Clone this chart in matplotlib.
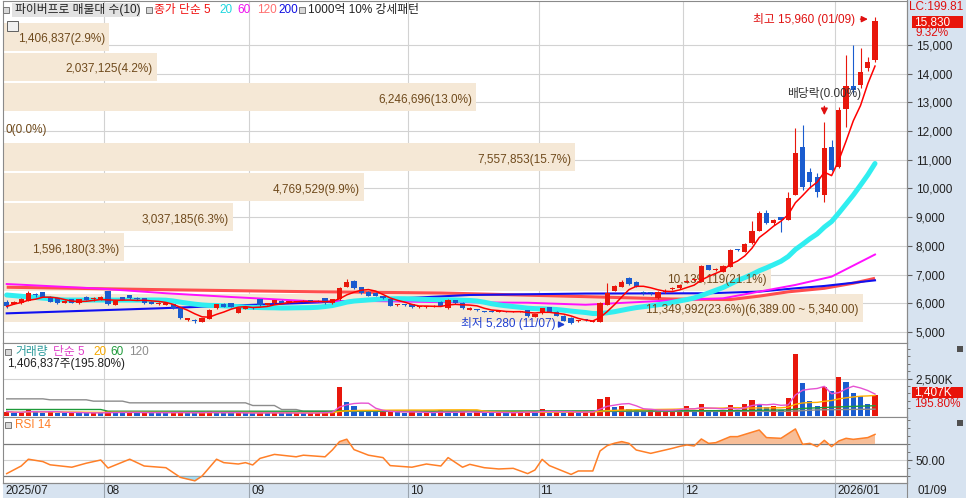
import numpy as np
import pandas as pd
import matplotlib
matplotlib.use('Agg')
import matplotlib.pyplot as plt
from matplotlib.patches import Rectangle
from matplotlib.transforms import blended_transform_factory

plt.rcParams['font.family'] = ['Liberation Sans', 'Noto Sans CJK KR', 'DejaVu Sans']

# ---------------- data ----------------
opens = [6060,5980,6000,6090,6300,6380,6230,6170,6020,6140,
 6000,6230,6140,6150,6430,5940,6210,6290,6170,6170,
 6057,5960,5940,5960,5825,5418,5400,5360,5450,5825,
 5975,6000,5674,5800,5830,6140,5940,6000,6090,6040,
 6050,6060,6090,6080,6170,6000,6140,6580,6790,6560,
 6400,6370,6250,6140,5930,5940,5975,5870,5880,5880,
 6060,5825,6115,6020,5770,5770,5710,5710,5700,5710,
 5700,5690,5766,5530,5650,5860,5710,5560,5500,5380,
 5440,5360,5362,5943,6441,6580,6894,6755,6360,6360,
 6174,6390,6510,6522,6740,6800,6755,7335,7161,7103,
 7277,7870,7800,8090,8530,9158,8810,8996,8903,9774,
 11458,10587,10413,9774,11458,10760,12759,13572,13606,14186,14477]
highs = [6110,6090,6170,6420,6350,6400,6250,6190,6100,6150,
 6150,6250,6210,6240,6440,6100,6230,6300,6230,6190,
 6070,6030,6010,5980,5840,5480,5440,5490,5790,5980,
 6000,6010,5840,5870,5880,6160,6010,6130,6110,6080,
 6090,6100,6110,6120,6190,6160,6560,6850,6800,6580,
 6420,6380,6270,6150,5980,5970,5990,5920,5920,5940,
 6070,6150,6130,6040,5870,5800,5740,5750,5740,5740,
 5740,5730,5780,5640,5850,5870,5720,5580,5510,5420,
 5460,5420,6050,6700,6640,6800,6920,6770,6420,6400,
 6430,6500,6580,6660,6800,6860,7320,7350,7220,7320,
 7900,7900,8100,8850,9210,9260,8930,9010,9890,12097,
 12213,10700,10530,12300,11691,12850,14651,15000,14883,14570,15960]
lows = [5850,5960,5990,6080,6230,6220,6040,5990,6000,6010,
 5990,6100,6080,6130,5950,5930,6100,6150,6110,5990,
 5960,5950,5930,5810,5460,5380,5330,5350,5440,5810,
 5870,5870,5650,5790,5790,5920,5930,5990,6000,6020,
 6030,6040,6040,6030,5990,5990,6130,6560,6500,6330,
 6240,6240,6160,5900,5900,5900,5850,5850,5850,5860,
 5890,5810,5990,5810,5750,5730,5680,5680,5690,5680,
 5680,5680,5540,5520,5640,5700,5550,5380,5280,5350,
 5390,5340,5350,5930,6420,6560,6640,6560,6300,6300,
 6160,6370,6480,6500,6700,6780,6740,7150,7140,7090,
 7270,7830,7790,8080,8520,8780,8720,8500,8890,9760,
 9950,10006,9716,9540,10600,10700,12155,13300,13500,14100,14400]
closes = [5890,6050,6140,6350,6290,6230,6060,6000,6080,6020,
 6140,6115,6150,6230,5960,6090,6115,6170,6160,6000,
 5975,6020,6000,5825,5476,5476,5390,5476,5766,5964,
 5883,5883,5825,5860,5820,5940,6000,6115,6020,6060,
 6070,6080,6070,6060,6000,6140,6520,6750,6520,6350,
 6250,6250,6170,5910,5940,5930,5860,5890,5900,5900,
 5900,6115,6000,5825,5850,5760,5700,5700,5720,5700,
 5710,5720,5558,5620,5825,5710,5558,5400,5300,5400,
 5420,5400,6000,6349,6604,6755,6674,6580,6349,6349,
 6407,6410,6530,6640,6760,6820,7300,7161,7180,7300,
 7858,7858,8055,8530,9158,8810,8903,8903,9658,11250,
 10064,10238,9890,11400,10650,12736,13572,13433,14070,14419,15830]
volumes_k = [270,180,200,380,250,200,260,200,170,210,
 180,160,170,150,300,220,180,190,160,250,
 200,180,170,200,260,180,160,170,290,200,
 170,160,180,170,160,200,170,190,160,150,
 170,160,180,200,260,300,1910,945,630,400,
 260,220,250,300,220,200,250,180,200,170,
 340,200,190,270,200,270,160,150,270,160,
 200,260,280,160,450,160,270,200,270,160,
 270,310,1140,1230,545,660,450,390,230,380,
 390,400,410,430,610,390,770,340,330,390,
 730,390,770,1070,770,600,620,390,1180,4140,
 2200,1000,610,1900,1640,2590,2270,1500,1300,780,1407]

month_labels = ['2025/07', '08', '09', '10', '11', '12', '2026/01']
month_start = [0, 14, 34, 56, 74, 94, 115]
last_date = '01/09'

# moving averages (history before the window is not shown)
ma20_head_idx = [0, 8]
ma20_head_val = [6289, 6115]
ma60_idx = [0, 13, 22, 31, 43, 50, 60, 72, 80, 93, 99, 104, 109, 114, 120]
ma60_val = [6672, 6510, 6350, 6220, 6060, 6080, 6040, 6020, 5950, 6116, 6174, 6407, 6640, 6929, 7700]
ma120_idx = [0, 20, 43, 60, 80, 92, 100, 104, 108, 113, 117, 120]
ma120_val = [6560, 6480, 6400, 6360, 6232, 6150, 6130, 6250, 6400, 6523, 6700, 6871]
ma200_idx = [0, 21, 43, 64, 80, 97, 104, 109, 113, 120]
ma200_val = [5650, 5825, 6030, 6290, 6340, 6350, 6407, 6523, 6604, 6800]

vma60_idx = [0, 13, 14, 45, 46, 60, 82, 100, 108, 110, 116, 120]
vma60_val = [405, 405, 290, 290, 320, 300, 310, 330, 380, 480, 600, 660]
vma120_idx = [0, 5, 6, 11, 12, 16, 17, 33, 34, 37, 38, 40, 41, 60, 108, 112, 120]
vma120_val = [1126, 1126, 1060, 1060, 970, 970, 856, 856, 676, 676, 405, 405, 290, 270, 280, 380, 430]

rsi_idx = [0,2,3,5,6,9,11,13,14,17,19,22,24,26,27,29,30,32,33,34,35,37,40,41,44,
 45,46,47,48,50,52,53,56,58,60,61,63,64,66,68,70,72,73,74,75,78,79,81,82,83,
 84,85,86,87,89,90,92,93,94,95,96,97,98,100,101,102,104,105,107,109,110,111,112,
 113,114,115,116,117,119,120]
rsi_val = [33,42.5,51,48,44,41,46,50,40,51,42.5,40.4,28.3,24,30,51,46.7,45,46.7,43.8,
 52,57,54,56,54,62.5,73,76,63,56,53,43,41,45,42.5,53,41,44.6,40.4,38.8,
 39.6,33,37.5,50.8,43,32,36.3,36.3,61.3,68,71,73,70.8,62.5,58.3,60.4,64.6,67,68.8,67.5,
 76.3,70.8,71.7,79.2,79.2,82,87.5,78,77.1,88.8,69.6,70.8,66.7,74.6,66.7,73.8,77.1,75.8,78,82]

vp_volume = [1406837, 2037125, 6246696, 0, 7557853, 4769529, 3037185, 1596180, 10139119, 11349992]
vp_pct = [2.9, 4.2, 13.0, 0.0, 15.7, 9.9, 6.3, 3.3, 21.1, 23.6]
vp_high, vp_low = 15830, 5340

high_label = '최고 15,960 (01/09)'
low_label = '최저 5,280 (11/07)'
exdiv_label = '배당락(0.00%)'
high_price, high_i = 15960, 120
low_price, low_i = 5280, 78
exdiv_i = 113

# ---------------- layout ----------------
W, H = 966, 498
fig = plt.figure(figsize=(W / 100, H / 100), dpi=100)
fig.patch.set_facecolor('white')
LEFT, RIGHT = 2.7, 906.7
XL = (-0.553, 124.38)
RED, BLUE = '#E8170C', '#1A5CCF'
PANEL = '#D7E3F0'
GRID = '#D2D2D2'


def fx(px):
    return px / W


def fy(py):
    return 1 - py / H


def px_of(i):
    return LEFT + (i - XL[0]) / (XL[1] - XL[0]) * (RIGHT - LEFT)


def box(x0, y0, x1, y1, fc, ec='none', z=1, lw=0.8):
    fig.patches.append(Rectangle((fx(x0), fy(y1)), (x1 - x0) / W, (y1 - y0) / H,
                                 transform=fig.transFigure, facecolor=fc,
                                 edgecolor=ec, lw=lw, zorder=z))


def ftext(x, y, s, color='#222222', size=8.5, ha='left', va='center', z=3):
    fig.text(fx(x), fy(y), s, color=color, fontsize=size, ha=ha, va=va, zorder=z)


def icon(x, y, fc='#D8D8D8', ec='#777777', s=6):
    box(x, y - s / 2, x + s, y + s / 2, fc, ec, z=2, lw=0.7)


box(RIGHT, 0, W, H, PANEL, z=-5)
box(LEFT, 483.3, RIGHT, H, PANEL, z=-5)


def add_ax(y0, y1):
    ax = fig.add_axes([fx(LEFT), fy(y1), (RIGHT - LEFT) / W, (y1 - y0) / H])
    ax.set_xlim(*XL)
    ax.set_xticks([])
    for sp in ax.spines.values():
        sp.set_color('#8A8A8A')
        sp.set_linewidth(0.8)
    ax.yaxis.tick_right()
    ax.tick_params(axis='y', which='major', direction='out', length=3.5, width=0.8,
                   color='#606060', pad=3, labelsize=8.5, labelcolor='#202020')
    ax.tick_params(axis='y', which='minor', direction='out', length=2, width=0.6,
                   color='#606060')
    ax.set_axisbelow(True)
    for m in month_start[1:]:
        ax.axvline(m - 0.5, color=GRID, lw=0.8, zorder=0.3)
    return ax


ax_p = add_ax(1, 343)
ax_v = add_ax(343, 416.7)
ax_r = add_ax(416.7, 483.3)

n = len(closes)
x = np.arange(n)
o = np.array(opens, float)
h = np.array(highs, float)
l = np.array(lows, float)
c = np.array(closes, float)

# ---------------- price panel ----------------
ax_p.set_ylim(4617, 16532)
ticks = list(range(5000, 16000, 1000))
ax_p.set_yticks(ticks)
ax_p.set_yticklabels([f'{t:,}' for t in ticks])
for t in ticks:
    ax_p.axhline(t, color=GRID, lw=0.8, zorder=0.3)

# volume profile
trans = blended_transform_factory(ax_p.transAxes, ax_p.transData)
step = (vp_high - vp_low) / len(vp_volume)
maxv = max(vp_volume)
scale = 860 / (RIGHT - LEFT)
for k, (v, p) in enumerate(zip(vp_volume, vp_pct)):
    top = vp_high - k * step
    bot = top - step
    w = v / maxv * scale
    if v > 0:
        ax_p.add_patch(Rectangle((0, bot + 25), w, step - 75, transform=trans,
                                 facecolor='#F5E8D6', edgecolor='none', zorder=0.6))
    lab = f'{v:,}({p:.1f}%)'
    if k == len(vp_volume) - 1:
        lab += f'({top:,.2f} ~ {bot:,.2f})'
    ym = (top + bot) / 2 - 110
    if v > 0:
        ax_p.text(w - 4 / (RIGHT - LEFT), ym, lab, transform=trans, ha='right', va='center',
                  fontsize=8.5, color='#6F4A1C', zorder=2.5)
    else:
        ax_p.text(3 / (RIGHT - LEFT), ym, lab, transform=trans, ha='left', va='center',
                  fontsize=8.5, color='#6F4A1C', zorder=2.5)

cs = pd.Series(c)
ma5 = cs.rolling(5, min_periods=1).mean()
ma20 = cs.rolling(20).mean()
ma20_x = ma20_head_idx + list(range(19, n))
ma20_y = ma20_head_val + list(ma20.values[19:])

ax_p.plot(ma120_idx, ma120_val, color='#FF4D4D', lw=2.2, zorder=1.2, solid_capstyle='butt')
ax_p.plot(ma200_idx, ma200_val, color='#1010F0', lw=1.5, zorder=1.3)
ax_p.plot(ma60_idx, ma60_val, color='#FF10FF', lw=1.4, zorder=1.4)
ax_p.plot(ma20_x, ma20_y, color='#30EEF0', lw=3.6, zorder=1.5, solid_capstyle='round')

cols = np.where(c >= o, RED, BLUE)
ax_p.vlines(x, l, h, colors=cols, lw=0.8, zorder=2.9)
ax_p.bar(x, np.maximum(np.abs(c - o), 30), bottom=np.minimum(o, c), width=0.72,
         color=cols, edgecolor='none', zorder=3)
ax_p.plot(x, ma5, color='#FF0000', lw=1.1, zorder=4)

# annotations
ax_p.annotate('', xy=(high_i - 0.6, high_price - 60), xytext=(high_i - 2.4, high_price - 60),
              arrowprops=dict(arrowstyle='-|>', color='#E01010', lw=1.0, mutation_scale=9),
              zorder=5)
ax_p.text(high_i - 2.75, high_price - 60, high_label, ha='right', va='center',
          fontsize=8.5, color='#E01010', zorder=5)
ax_p.annotate('', xy=(exdiv_i, 12456), xytext=(exdiv_i, 12960),
              arrowprops=dict(arrowstyle='-|>', color='#E01010', lw=1.0, mutation_scale=10),
              zorder=5)
ax_p.text(exdiv_i, 13320, exdiv_label, ha='center', va='center', fontsize=8.5,
          color='#333333', zorder=5)
ax_p.annotate('', xy=(low_i - 0.45, low_price - 20), xytext=(low_i - 1.95, low_price - 20),
              arrowprops=dict(arrowstyle='-|>', color='#1F3FD0', lw=1.0, mutation_scale=9),
              zorder=5)
ax_p.text(low_i - 2.2, low_price + 10, low_label, ha='right', va='center',
          fontsize=8.5, color='#1F3FD0', zorder=5)

# ---------------- volume panel ----------------
vol = np.array(volumes_k, float)
vcols = [RED] + [RED if vol[i] >= vol[i - 1] else BLUE for i in range(1, n)]
ax_v.set_ylim(-81, 4899)
ax_v.axhline(2500, color=GRID, lw=0.8, zorder=0.3)
ax_v.bar(x, vol, width=0.72, color=vcols, edgecolor='none', zorder=2)
vs = pd.Series(vol)
ax_v.plot(vma120_idx, vma120_val, color='#8C8C8C', lw=1.0, zorder=3)
ax_v.plot(vma60_idx, vma60_val, color='#1E9A3A', lw=1.0, zorder=3.1)
ax_v.plot(x, vs.rolling(20, min_periods=1).mean(), color='#FFB000', lw=1.0, zorder=3.2)
ax_v.plot(x, vs.rolling(5, min_periods=1).mean(), color='#E652D2', lw=1.0, zorder=3.3)
ax_v.set_yticks([2500])
ax_v.set_yticklabels(['2,500K'])
ax_v.set_yticks([500, 1000, 1500, 2000, 3000, 3500, 4000, 4500], minor=True)

# ---------------- RSI panel ----------------
ax_r.set_ylim(20.9, 104.1)
ax_r.axhline(50, color=GRID, lw=0.8, zorder=0.3)
ax_r.axhline(70, color='#7A7A7A', lw=0.9, zorder=0.4)
ax_r.axhline(30, color='#7A7A7A', lw=0.9, zorder=0.4)
rx = np.array(rsi_idx, float)
ry = np.array(rsi_val, float)
ax_r.fill_between(rx, 70, ry, where=ry > 70, interpolate=True, color='#F7BE98', lw=0, zorder=1)
ax_r.fill_between(rx, 30, ry, where=ry < 30, interpolate=True, color='#A6DCF2', lw=0, zorder=1)
ax_r.plot(rx, ry, color='#FF7F27', lw=1.1, zorder=2)
ax_r.set_yticks([50])
ax_r.set_yticklabels(['50.00'])
ax_r.set_yticks([30, 40, 60, 70, 80, 90, 100], minor=True)

# ---------------- date band ----------------
fig.add_artist(plt.Line2D([fx(LEFT), fx(RIGHT)], [fy(483.3), fy(483.3)], color='#8A8A8A', lw=0.8, zorder=1))
fig.add_artist(plt.Line2D([fx(RIGHT), fx(RIGHT)], [fy(0), fy(H)], color='#8A8A8A', lw=0.8, zorder=1))
for lab, m in zip(month_labels, month_start):
    if m == 0:
        ftext(5, 490.5, lab)
    else:
        xp = px_of(m - 0.5)
        fig.add_artist(plt.Line2D([fx(xp), fx(xp)], [fy(483.3), fy(H)], color='#9AA4AE', lw=0.8, zorder=1))
        ftext(xp + 2, 490.5, lab)
ftext(917, 490.5, last_date)

# ---------------- legends ----------------
box(12, 3, 140, 17, '#E2E2E2', z=1)
icon(3, 10)
ftext(15, 10, '파이버프로 매물대 수(10)', '#202020')
icon(146, 10)
ftext(154, 10, '종가 단순 5', '#F01010')
ftext(219, 10, '20', '#1ED6DE')
ftext(237, 10, '60', '#F010F0')
ftext(257, 10, '120', '#FF6F6F')
ftext(278, 10, '200', '#1010E0')
icon(299, 10)
ftext(308, 10, '1000억 10% 강세패턴', '#202020')
box(7, 21, 18, 31, '#F0F0F0', '#606060', z=2, lw=0.7)

icon(5, 352)
ftext(15, 352, '거래량', '#2A9A9A')
ftext(53, 352, '단순 5', '#E040C8')
ftext(93, 352, '20', '#F5A800')
ftext(110, 352, '60', '#1E9A3A')
ftext(129, 352, '120', '#8C8C8C')
ftext(7, 363.5, '1,406,837주(195.80%)', '#202020')

icon(5, 425)
ftext(15, 425, 'RSI 14', '#FF7F27')

# ---------------- right panel texts ----------------
ftext(909, 7, 'LC:199.81', '#E01010')
box(911.5, 16, 963, 28.5, '#E8140A', z=2)
ftext(914, 22.3, f'{closes[-1]:,}', 'white', z=3)
ftext(915, 33.5, '9.32%', '#E01010')
box(911.5, 387.3, 963, 398.3, '#E8140A', z=2)
ftext(914, 392.8, '1,407K', 'white', z=3)
ftext(914, 404, '195.80%', '#E01010')
box(957, 346, 963, 352, '#505050', z=2)
box(957, 419.5, 963, 425.5, '#505050', z=2)

fig.savefig('out.png', dpi=100)
